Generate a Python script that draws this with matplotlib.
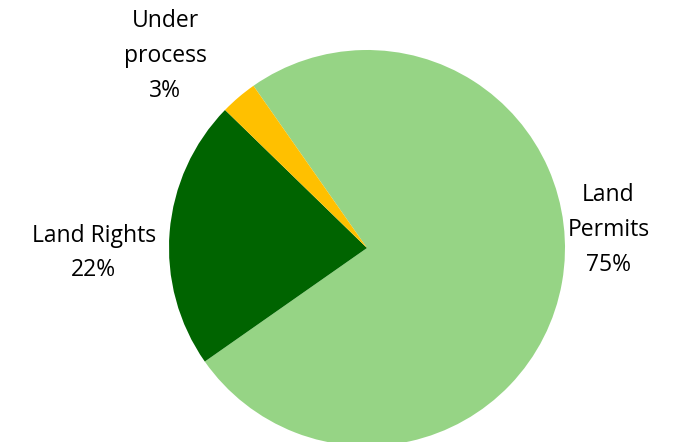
import matplotlib
matplotlib.use("Agg")
import matplotlib.pyplot as plt

# ---------------------------------------------------------------------------
# Data
# ---------------------------------------------------------------------------

categories = ["Land Permits", "Land Rights", "Under process"]
shares = [75, 22, 3]
label_texts = ["Land\nPermits\n75%", "Land Rights\n22%", "Under\nprocess\n3%"]
colors = ["#96D485", "#006400", "#FFC000"]

# ---------------------------------------------------------------------------
# Plot
# ---------------------------------------------------------------------------

plt.rcParams["font.family"] = ["Open Sans", "DejaVu Sans"]

fig = plt.figure(figsize=(6.76, 4.42), dpi=100)
cx, cy, r = 367, 248, 198  # pie centre / radius in pixels
W, H = 676, 442
ax = fig.add_axes([(cx - r) / W, (H - cy - r) / H, 2 * r / W, 2 * r / H])

ax.pie(shares, colors=colors, startangle=125, counterclock=False, radius=1.0,
       wedgeprops=dict(linewidth=0))

# label positions (data units, pie radius = 1)
label_pos = [(1.22, 0.09), (-1.38, -0.025), (-1.02, 0.97)]
for txt, (x, y) in zip(label_texts, label_pos):
    ax.text(x, y, txt, ha="center", va="center", fontsize=16.5,
            linespacing=1.6, color="#000000", clip_on=False)

ax.set_xlim(-1, 1)
ax.set_ylim(-1, 1)
ax.set_aspect("equal")
ax.axis("off")

fig.savefig("out.png", dpi=100)
plt.close(fig)
